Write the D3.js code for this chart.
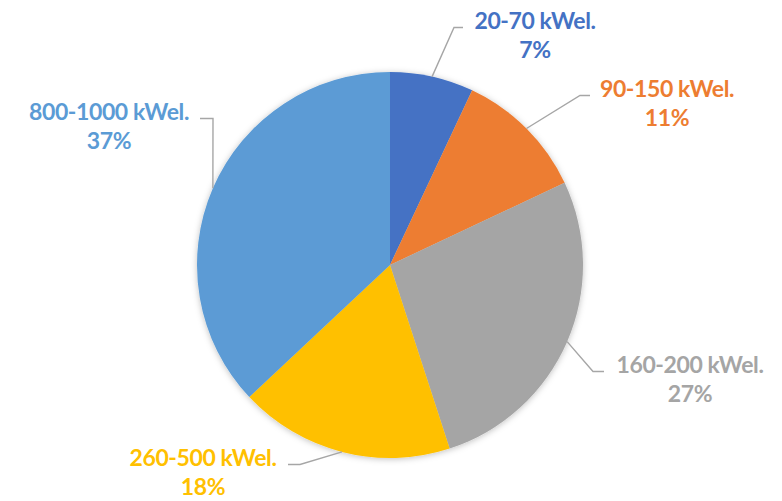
<!doctype html>
<html lang="en">
<head>
    <meta charset="utf-8">
    <title>kWel. Verteilung</title>
    <script src="https://d3js.org/d3.v7.min.js"></script>
    <style>
        body { margin: 0; background: #fff; }
        text { font-family: Lato, "Open Sans", sans-serif; font-weight: 700; }
    </style>
</head>
<body>
    <div id="chart"></div>
    <script>
        // data
        var categories = ["20-70 kWel.", "90-150 kWel.", "160-200 kWel.", "260-500 kWel.", "800-1000 kWel."];
        var shares = [7, 11, 27, 18, 37];
        var sliceColors = ["#4472C4", "#ED7D31", "#A5A5A5", "#FFC000", "#5B9BD5"];

        // label placement (text centre x, baseline y, elbow x, end x of the leader)
        var labelLayout = [
            { tx: 535, ty: 29, ex: 454, hx: 463 },
            { tx: 667, ty: 97, ex: 580, hx: 590 },
            { tx: 690, ty: 373, ex: 593, hx: 604 },
            { tx: 203, ty: 466, ex: 300, hx: 288 },
            { tx: 109, ty: 120, ex: 213, hx: 200 }
        ];

        var width = 782, height = 501;
        var cx = 390, cy = 265, radius = 193;

        var svg = d3.select("#chart")
            .append("svg")
            .attr("width", width)
            .attr("height", height);

        var defs = svg.append("defs");
        var f = defs.append("filter").attr("id", "shadow")
            .attr("x", "-10%").attr("y", "-10%").attr("width", "120%").attr("height", "120%");
        f.append("feDropShadow")
            .attr("dx", 0).attr("dy", 1)
            .attr("stdDeviation", 3)
            .attr("flood-color", "#000")
            .attr("flood-opacity", 0.25);

        var g = svg.append("g")
            .attr("transform", "translate(" + cx + "," + cy + ")");

        var color = d3.scaleOrdinal().domain(categories).range(sliceColors);

        var data = categories.map(function (c, i) { return { key: c, value: shares[i], i: i }; });

        var pie = d3.pie().sort(null).value(function (d) { return d.value; });
        var arcs = pie(data);

        var arc = d3.arc().innerRadius(0).outerRadius(radius);

        g.append("g")
            .attr("filter", "url(#shadow)")
            .selectAll("path")
            .data(arcs)
            .enter()
            .append("path")
            .attr("d", arc)
            .attr("fill", function (d) { return color(d.data.key); });

        // leader lines + labels
        arcs.forEach(function (d, i) {
            var mid = (d.startAngle + d.endAngle) / 2;
            var sx = cx + Math.sin(mid) * radius;
            var sy = cy - Math.cos(mid) * radius;
            var L = labelLayout[i];
            var ly = L.ty - 1.5;

            svg.append("polyline")
                .attr("points", [[sx, sy], [L.ex, ly], [L.hx, ly]].map(function (p) { return p.join(","); }).join(" "))
                .attr("fill", "none")
                .attr("stroke", "#A6A6A6")
                .attr("stroke-width", 1.4);

            var t = svg.append("text")
                .attr("text-anchor", "middle")
                .attr("fill", color(d.data.key))
                .style("font-size", "23px")
                .style("letter-spacing", "-0.4px");
            t.append("tspan").attr("x", L.tx).attr("y", L.ty).text(d.data.key);
            t.append("tspan").attr("x", L.tx).attr("y", L.ty + 29).text(d.data.value + "%");
        });
    </script>
</body>
</html>
